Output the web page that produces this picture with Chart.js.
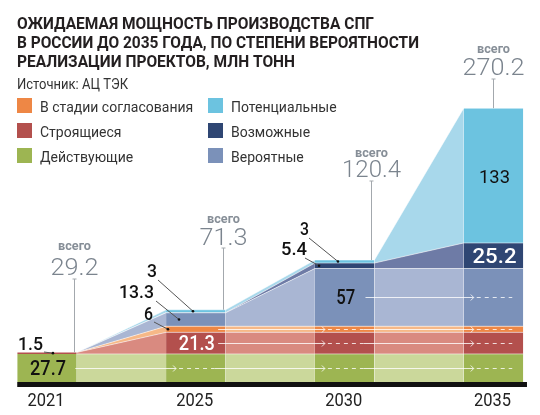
<!DOCTYPE html>
<html lang="ru">
<head>
<meta charset="UTF-8">
<title>Мощность производства СПГ в России</title>
<script src="https://cdn.jsdelivr.net/npm/chart.js"></script>
<style>
  html, body { margin: 0; padding: 0; background: #fff; }
</style>
</head>
<body>
<canvas id="lngChart" width="540" height="415"></canvas>
<script>
// млн тонн, по годам
const years = ['2021', '2025', '2030', '2035'];
const operating = [27.7, 27.7, 27.7, 27.7];   // Действующие
const building  = [1.5, 21.3, 21.3, 21.3];    // Строящиеся
const approval  = [0, 6, 6, 6];               // В стадии согласования
const probable  = [0, 13.3, 57, 57];          // Вероятные
const possible  = [0, 0, 5.4, 25.2];          // Возможные
const potential = [0, 3, 3, 133];             // Потенциальные
const totals    = [29.2, 71.3, 120.4, 270.2];

// stack order bottom -> top, with bar colour and the paler colour of the connector
const layers = [
  { label: 'Действующие',           values: operating, solid: '#9db552', light: '#cbd89b' },
  { label: 'Строящиеся',            values: building,  solid: '#b3504d', light: '#d98a80' },
  { label: 'В стадии согласования', values: approval,  solid: '#ee8745', light: '#f6b887' },
  { label: 'Вероятные',             values: probable,  solid: '#7b91b9', light: '#a9b6d3' },
  { label: 'Возможные',             values: possible,  solid: '#2f4673', light: '#6e7ba6' },
  { label: 'Потенциальные',         values: potential, solid: '#6cc3e0', light: '#a8d8eb' }
];

const HALF = 0.2;   // half of a bar, in year-slot units
const SEP = 'rgba(255,255,255,0.55)';

function cum(layerIdx, i) {
  let s = 0;
  for (let k = 0; k < layerIdx; k++) s += layers[k].values[i];
  return s;
}
function mid(layerIdx, i) {
  return cum(layerIdx, i) + layers[layerIdx].values[i] / 2;
}

// text squeezed/stretched to a given width (the original uses a condensed face)
function fitText(ctx, text, x, y, w, align) {
  const m = ctx.measureText(text).width;
  ctx.save();
  ctx.translate(x, y);
  ctx.scale(w ? w / m : 1, 1);
  ctx.textAlign = align || 'left';
  ctx.fillText(text, 0, 0);
  ctx.restore();
}

function chevron(ctx, x, y) {
  ctx.beginPath();
  ctx.moveTo(x - 3, y - 3);
  ctx.lineTo(x, y);
  ctx.lineTo(x - 3, y + 3);
  ctx.stroke();
}

const decor = {
  id: 'decor',
  afterDatasetsDraw(chart) {
    const ctx = chart.ctx;
    const xs = chart.scales.x, ys = chart.scales.y;
    const X = v => xs.getPixelForValue(v);
    const Y = v => ys.getPixelForValue(v);
    ctx.save();
    ctx.textBaseline = 'alphabetic';

    // white arrows running through the layers
    const arrows = [
      { layer: 0, from: 0.19, bar: 0 },
      { layer: 1, from: 1.15, bar: 1 },
      { layer: 2, from: 1.15, bar: 1 },
      { layer: 3, from: 2.14, bar: 2 }
    ];
    ctx.strokeStyle = 'rgba(255,255,255,0.8)';
    ctx.lineWidth = 1;
    arrows.forEach(a => {
      const y = Math.round(Y(mid(a.layer, 3))) + 0.5;
      let cx = X(a.from);
      for (let j = a.bar + 1; j < years.length; j++) {
        const tip = X(j - HALF) + 10;
        ctx.setLineDash([]);
        ctx.beginPath(); ctx.moveTo(cx, y); ctx.lineTo(tip, y); ctx.stroke();
        chevron(ctx, tip, y);
        const dEnd = X(j + HALF) - 11;
        ctx.setLineDash([4, 4]);
        ctx.beginPath(); ctx.moveTo(tip + 3, y); ctx.lineTo(dEnd, y); ctx.stroke();
        cx = dEnd;
      }
    });
    ctx.setLineDash([]);

    // baseline
    ctx.fillStyle = '#111';
    ctx.fillRect(X(-HALF), Y(0), X(3.225) - X(-HALF), 5);

    // years
    ctx.fillStyle = '#222';
    ctx.font = '19px Roboto';
    years.forEach((t, i) => fitText(ctx, t, X(i) - 1, 406, 37, 'center'));

    // values inside bars
    const inside = [
      { text: '27.7', layer: 0, i: 0, w: 36, color: '#111', font: '500 20px Roboto' },
      { text: '21.3', layer: 1, i: 1, w: 36, color: '#fff', font: '500 20px Roboto' },
      { text: '57',   layer: 3, i: 2, w: 19, color: '#111', font: '500 20px Roboto' },
      { text: '25.2', layer: 4, i: 3, w: 44, color: '#fff', font: '500 20px Roboto' },
      { text: '133',  layer: 5, i: 3, w: 31, color: '#111', font: '400 19px Roboto' }
    ];
    inside.forEach(l => {
      ctx.fillStyle = l.color;
      ctx.font = l.font;
      fitText(ctx, l.text, X(l.i) + 1, Y(mid(l.layer, l.i)) + 7, l.w, 'center');
    });

    // values outside, with leader lines
    const callouts = [
      { text: '1.5',  x: 18,  y: 350, w: 25, sx: 44,  sy: 352, layer: 1, i: 0, at: 0.04 },
      { text: '6',    x: 144, y: 320, w: 9,  sx: 154, sy: 322, layer: 2, i: 1, at: 0.813 },
      { text: '13.3', x: 119, y: 298, w: 35, sx: 156, sy: 301, layer: 3, i: 1, at: 0.887 },
      { text: '3',    x: 147, y: 277, w: 10, sx: 158, sy: 280, layer: 5, i: 1, at: 0.981 },
      { text: '5.4',  x: 281, y: 255, w: 26, sx: 305, sy: 258, layer: 4, i: 2, at: 1.828 },
      { text: '3',    x: 300, y: 235, w: 9,  sx: 309, sy: 238, layer: 5, i: 2, at: 1.955 }
    ];
    callouts.forEach(c => {
      const tx = X(c.at), ty = Y(mid(c.layer, c.i));
      ctx.strokeStyle = '#555';
      ctx.lineWidth = 1;
      ctx.beginPath(); ctx.moveTo(c.sx, c.sy); ctx.lineTo(tx, ty); ctx.stroke();
      ctx.fillStyle = '#111';
      ctx.beginPath(); ctx.arc(tx, ty, 1.3, 0, Math.PI * 2); ctx.fill();
      ctx.font = '500 19px Roboto';
      fitText(ctx, c.text, c.x, c.y, c.w, 'left');
    });

    // totals above each year
    const tot = [
      { at: 0.18, top: 279, lab: 250, num: 275, w: 48 },
      { at: 1.18, top: 248, lab: 223, num: 245, w: 48 },
      { at: 2.18, top: 181, lab: 157, num: 177, w: 59 },
      { at: 3,    top: 79,  lab: 53,  num: 75,  w: 62 }
    ];
    tot.forEach((t, i) => {
      const x = Math.round(X(t.at)) + 0.5;
      ctx.strokeStyle = '#a3a8ad';
      ctx.lineWidth = 1;
      ctx.beginPath();
      ctx.moveTo(x, t.top); ctx.lineTo(x, Y(totals[i]));
      ctx.moveTo(x - 2, t.top); ctx.lineTo(x + 2, t.top);
      ctx.stroke();
      ctx.fillStyle = '#868e97';
      ctx.font = 'bold 12px Roboto';
      fitText(ctx, 'всего', x, t.lab, 33, 'center');
      ctx.fillStyle = '#7b848e';
      ctx.font = '300 24px Roboto';
      fitText(ctx, totals[i].toFixed(1), x, t.num, t.w, 'center');
    });

    // title and source
    ctx.fillStyle = '#231f20';
    ctx.font = 'bold 17px Roboto';
    fitText(ctx, 'ОЖИДАЕМАЯ МОЩНОСТЬ ПРОИЗВОДСТВА СПГ', 17, 29, 357);
    fitText(ctx, 'В РОССИИ ДО 2035 ГОДА, ПО СТЕПЕНИ ВЕРОЯТНОСТИ', 17, 48, 402);
    fitText(ctx, 'РЕАЛИЗАЦИИ ПРОЕКТОВ, МЛН ТОНН', 17, 67, 278);
    ctx.fillStyle = '#333';
    ctx.font = '14px Roboto';
    fitText(ctx, 'Источник: АЦ ТЭК', 17, 89, 111);

    // legend, two columns
    const cols = [[2, 1, 0], [5, 4, 3]];
    cols.forEach((col, c) => {
      col.forEach((k, r) => {
        const bx = c ? 208 : 17, by = 98 + r * 25;
        ctx.fillStyle = layers[k].solid;
        ctx.fillRect(bx, by, 15, 15);
        ctx.fillStyle = '#333';
        ctx.font = '14px Roboto';
        ctx.textAlign = 'left';
        ctx.fillText(layers[k].label, bx + 23, by + 14);
      });
    });
    ctx.restore();
  }
};

Chart.defaults.font.family = 'Roboto';

new Chart(document.getElementById('lngChart'), {
  type: 'line',
  data: {
    datasets: layers.map((l, k) => ({
      label: l.label,
      data: l.values.flatMap((v, i) => [{ x: i - HALF, y: v }, { x: i + HALF, y: v }]),
      fill: k === 0 ? 'origin' : '-1',
      backgroundColor: l.solid,
      borderColor: SEP,
      borderWidth: 1,
      pointRadius: 0,
      tension: 0,
      segment: {
        backgroundColor: c => (c.p0DataIndex % 2 === 0 ? l.solid : l.light),
        borderColor: c => (c.p0DataIndex === 0 ? 'rgba(0,0,0,0)' : SEP)
      }
    }))
  },
  options: {
    responsive: false,
    animation: false,
    layout: { padding: { top: 78, bottom: 33, left: 0, right: 0 } },
    scales: {
      x: { type: 'linear', min: -0.3158, max: 3.3125, display: false },
      y: { stacked: true, min: 0, max: 300, display: false }
    },
    plugins: {
      legend: { display: false },
      tooltip: { enabled: false }
    }
  },
  plugins: [decor]
});
</script>
</body>
</html>
